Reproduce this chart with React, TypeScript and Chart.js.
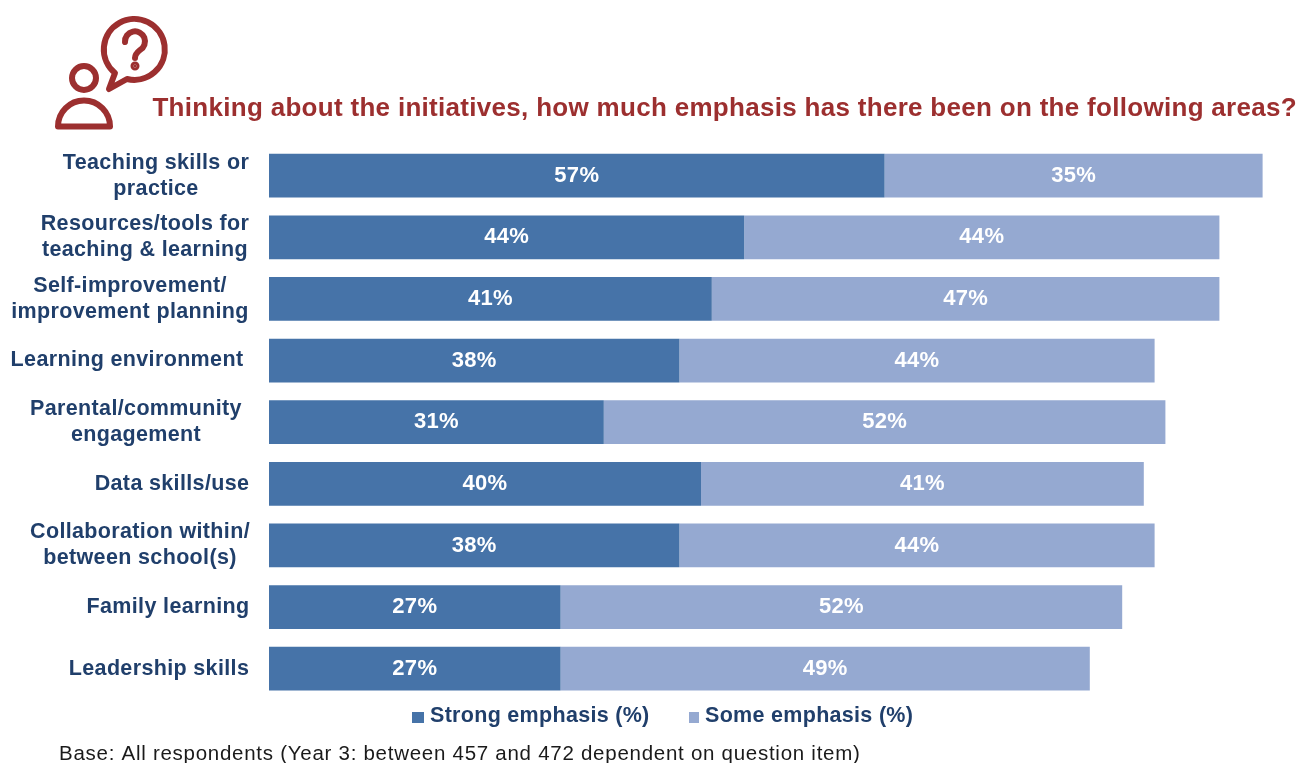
import React, { useEffect, useRef } from "react";
import { Chart, registerables } from "chart.js";

Chart.register(...registerables);

const categories = [
  ["Teaching skills or", "practice"],
  ["Resources/tools for", "teaching & learning"],
  ["Self-improvement/", "improvement planning"],
  ["Learning environment"],
  ["Parental/community", "engagement"],
  ["Data skills/use"],
  ["Collaboration within/", "between school(s)"],
  ["Family learning"],
  ["Leadership skills"],
];
const strongEmphasis = [57, 44, 41, 38, 31, 40, 38, 27, 27];
const someEmphasis = [35, 44, 47, 44, 52, 41, 44, 52, 49];
const labelCentres = [156, 145, 130, 127, 136, 172, 140, 168, 159];
const legendBoxes = [
  { x: 412, w: 12, textX: 430 },
  { x: 689, w: 10, textX: 705 },
];

const titleText = "Thinking about the initiatives, how much emphasis has there been on the following areas?";
const baseNote = "Base: All respondents (Year 3: between 457 and 472 dependent on question item)";

const FONT = "'Liberation Sans', Arial, sans-serif";
const NAVY = "#203f6b";
const MAROON = "#9c2f2f";

// The title is tracked slightly wider than the font's natural spacing.
const titleTracking = {
  id: "titleTracking",
  beforeDraw(chart: any) {
    chart.ctx.letterSpacing = "0.3px";
  },
};

// Category names are centred line by line around their own column position.
const categoryLabels = {
  id: "categoryLabels",
  afterDraw(chart: any) {
    const { ctx, scales } = chart;
    ctx.save();
    ctx.font = `bold 21.5px ${FONT}`;
    ctx.letterSpacing = "0.35px";
    ctx.fillStyle = NAVY;
    ctx.textAlign = "center";
    ctx.textBaseline = "middle";
    categories.forEach((lines, i) => {
      const y = scales.y.getPixelForTick(i);
      lines.forEach((line, k) => {
        ctx.fillText(line, labelCentres[i], y + (k - (lines.length - 1) / 2) * 26);
      });
    });
    ctx.restore();
  },
};

// Percentages inside each bar segment.
const valueLabels = {
  id: "valueLabels",
  afterDatasetsDraw(chart: any) {
    const { ctx } = chart;
    ctx.save();
    ctx.font = `bold 22px ${FONT}`;
    ctx.letterSpacing = "0.3px";
    ctx.fillStyle = "#ffffff";
    ctx.textAlign = "center";
    ctx.textBaseline = "middle";
    chart.data.datasets.forEach((ds: any, d: number) => {
      chart.getDatasetMeta(d).data.forEach((bar: any, i: number) => {
        const c = bar.getCenterPoint();
        ctx.fillText(`${ds.data[i]}%`, c.x, c.y);
      });
    });
    ctx.restore();
  },
};

// Legend row built from the datasets, and the base note underneath it.
const legendAndNote = {
  id: "legendAndNote",
  afterDraw(chart: any) {
    const { ctx } = chart;
    ctx.save();
    ctx.textAlign = "left";
    ctx.textBaseline = "middle";
    ctx.font = `bold 21.5px ${FONT}`;
    ctx.letterSpacing = "0.3px";
    chart.data.datasets.forEach((ds: any, d: number) => {
      const box = legendBoxes[d];
      ctx.fillStyle = ds.backgroundColor;
      ctx.fillRect(box.x, 712, box.w, 11);
      ctx.fillStyle = NAVY;
      ctx.fillText(ds.label, box.textX, 716);
    });
    ctx.font = `20.5px ${FONT}`;
    ctx.letterSpacing = "0.73px";
    ctx.fillStyle = "#1a1a1a";
    ctx.fillText(baseNote, 59, 754);
    ctx.restore();
  },
};

export default function App() {
  const canvasRef = useRef<HTMLCanvasElement>(null);

  useEffect(() => {
    const chart = new Chart(canvasRef.current!, {
      type: "bar",
      data: {
        labels: categories.map((c) => c.join(" ")),
        datasets: [
          { label: "Strong emphasis (%)", data: strongEmphasis, backgroundColor: "#4673a8" },
          { label: "Some emphasis (%)", data: someEmphasis, backgroundColor: "#95a9d1" },
        ],
      },
      options: {
        indexAxis: "y",
        responsive: false,
        animation: false,
        layout: { padding: { left: 28, right: 4, top: 0, bottom: 63.5 } },
        datasets: { bar: { categoryPercentage: 1, barPercentage: 0.71 } },
        scales: {
          x: { stacked: true, min: 0, max: 95.185, display: false },
          y: {
            stacked: true,
            grid: { display: false },
            border: { display: false },
            ticks: { display: false },
            afterFit(scale: any) {
              scale.width = 241;
            },
          },
        },
        plugins: {
          tooltip: { enabled: false },
          legend: { display: false },
          title: {
            display: true,
            text: titleText,
            align: "end",
            color: MAROON,
            font: { family: FONT, size: 26, weight: "bold" },
            padding: { top: 93.5, bottom: 20.2 },
          },
        },
      } as any,
      plugins: [titleTracking, categoryLabels, valueLabels, legendAndNote],
    });
    return () => chart.destroy();
  }, []);

  return (
    <div style={{ position: "absolute", left: 0, top: 0, width: 1301, height: 763, background: "#fff", overflow: "hidden" }}>
      <canvas ref={canvasRef} width={1301} height={763} style={{ display: "block" }} />
      <svg width={180} height={140} style={{ position: "absolute", left: 0, top: 0 }} fill="none" stroke={MAROON} strokeWidth={6} strokeLinejoin="round" strokeLinecap="round">
        <path d="M109 89 L115 73 A30.5 30.5 0 1 1 127 79 Z" />
        <circle cx={84} cy={78} r={12} />
        <path d="M58 126.5 A26 26 0 0 1 110 126.5 Z" />
        <path d="M125 42 A10 10 0 1 1 140 50 Q135 54 135 58" />
        <circle cx={135} cy={66} r={1.5} fill={MAROON} />
      </svg>
    </div>
  );
}
